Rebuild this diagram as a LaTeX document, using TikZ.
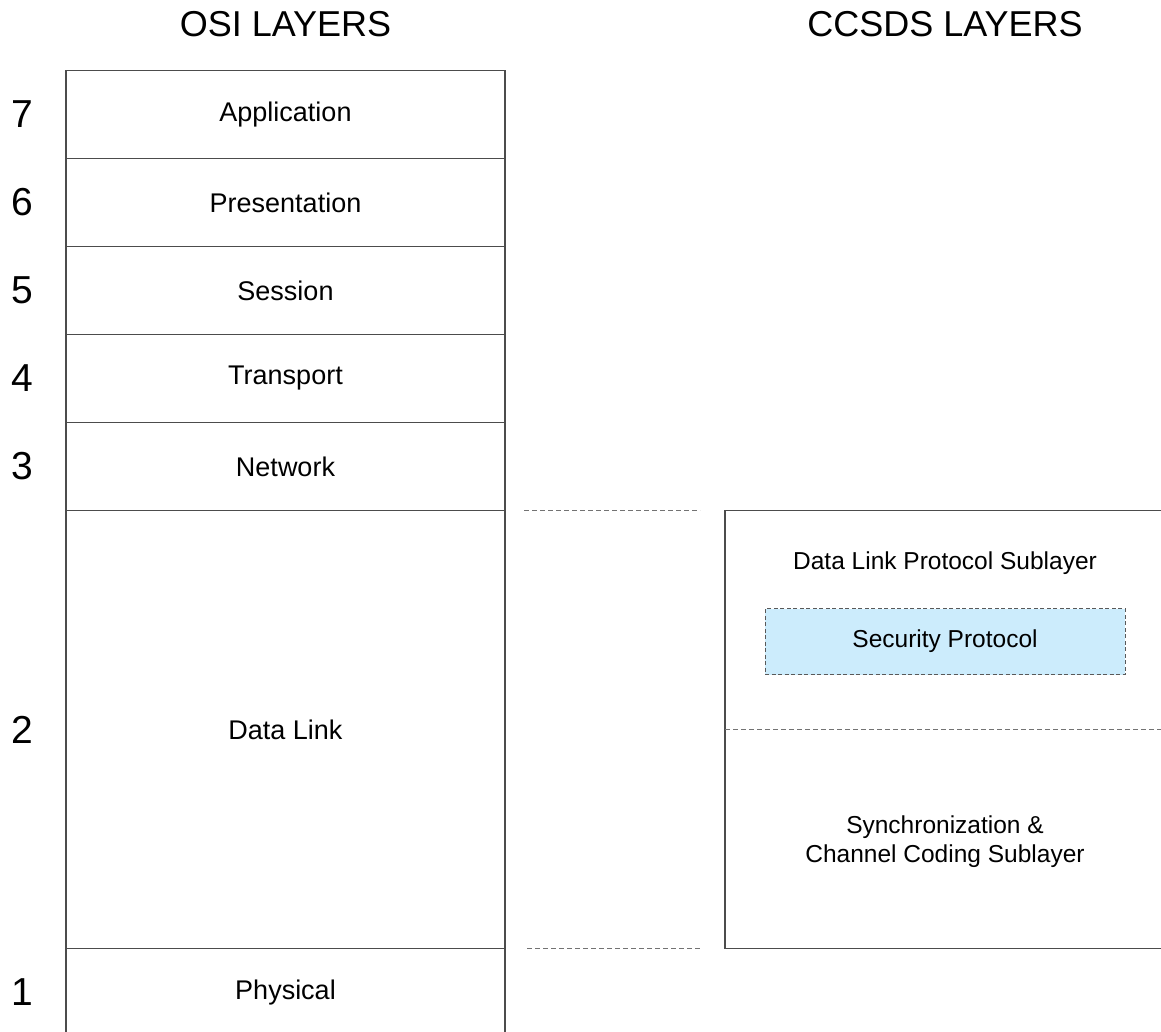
\documentclass[tikz,border=0pt]{standalone}
\usepackage{fontspec}
\setmainfont{Liberation Sans}
\usetikzlibrary{positioning}
\definecolor{secfill}{HTML}{CCECFC}

\begin{document}
\begin{tikzpicture}[x=1pt, y=-1pt, node distance=0pt]
  % --- Styles ---
    \tikzset{
      layer/.style  = {rectangle,draw=black!70,line width=1.2pt,outer sep=0pt,
                       minimum width=439pt,minimum height=88pt,
                       font=\fontsize{27}{33}\selectfont},
      num/.style    = {inner sep=0pt,font=\fontsize{39}{44}\selectfont},
      title/.style  = {inner sep=0pt,font=\fontsize{36}{42}\selectfont},
      sub/.style    = {inner sep=0pt,align=center,font=\fontsize{24.5}{29}\selectfont},
      secbox/.style = {rectangle,draw=black!65,fill=secfill,line width=1pt,
                       dash pattern=on 4pt off 2.5pt,outer sep=0pt,
                       minimum width=360pt,minimum height=66pt,
                       font=\fontsize{24.5}{29}\selectfont},
      gap/.style    = {draw=black!55,line width=1pt,dash pattern=on 5pt off 3pt}
    }
    \useasboundingbox (0,0) rectangle (1161,1031);
    \clip (0,0) rectangle (1161,1031);

    % --- OSI stack, top to bottom ---
    \node[layer] (app) at (285.5,114.5) {Application};
    \node[layer,below=of app]  (pres) {Presentation};
    \node[layer,below=of pres] (sess) {Session};
    \node[layer,below=of sess] (trans) {Transport};
    \node[layer,below=of trans] (net) {Network};
    \node[layer,below=of net,minimum height=438pt] (dl) {Data Link};
    \node[layer,below=of dl]   (phys) {Physical};

    % --- Layer numbers ---
    \node[num,left=33pt of app]   {7};
    \node[num,left=33pt of pres]  {6};
    \node[num,left=33pt of sess]  {5};
    \node[num,left=33pt of trans] {4};
    \node[num,left=33pt of net]   {3};
    \node[num,left=33pt of dl]    {2};
    \node[num,left=33pt of phys]  {1};

    % --- CCSDS data link layer ---
    \node[layer,right=220pt of dl,minimum width=440pt,minimum height=438pt] (ccsds) {};
    \node[sub,below=41pt of ccsds.north] (dlp) {Data Link Protocol Sublayer};
    \node[secbox,below=98pt of ccsds.north] (sec) {Security Protocol};
    \node[sub,below=305pt of ccsds.north] (sync) {Synchronization \&\\Channel Coding Sublayer};
    \coordinate (splitW) at ([yshift=-219pt]ccsds.north west);
    \coordinate (splitE) at ([yshift=-219pt]ccsds.north east);
    \draw[gap] (splitW) -- (splitE);

    % --- Titles ---
    \node[title,above=33pt of app] (osiT) {OSI LAYERS};
    \node[title] (ccsdsT) at (osiT -| ccsds) {CCSDS LAYERS};

    % --- Correspondence between the stacks ---
    \draw[gap] ([xshift=19pt]dl.north east) -- ([xshift=-25pt]ccsds.north west);
    \draw[gap] ([xshift=22pt]dl.south east) -- ([xshift=-25pt]ccsds.south west);

\end{tikzpicture}
\end{document}
